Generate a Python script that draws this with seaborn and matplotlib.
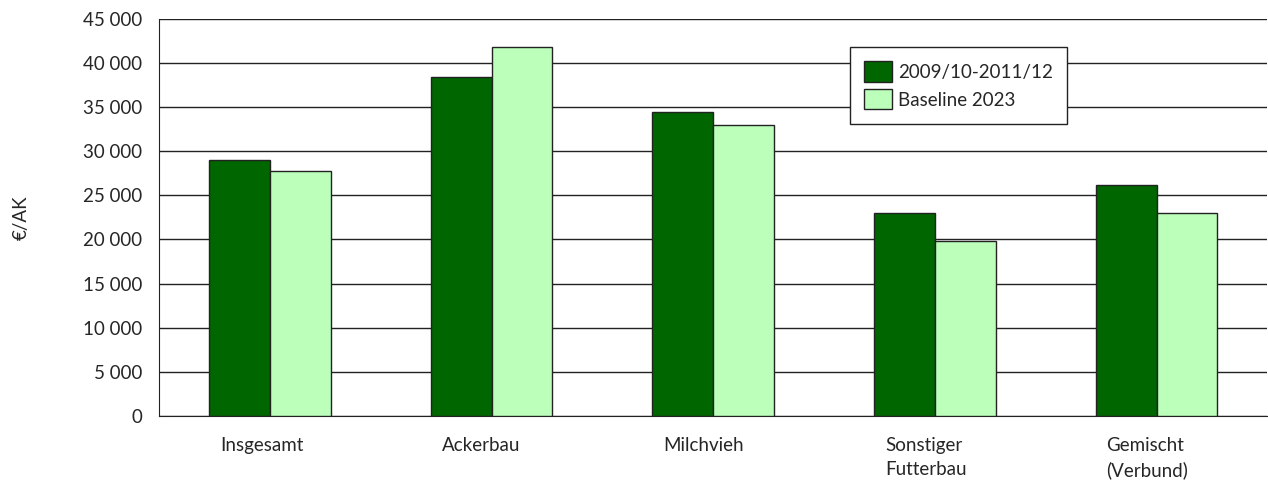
import matplotlib.pyplot as plt
import matplotlib.transforms as mtrans
import pandas as pd
import seaborn as sns
from matplotlib.ticker import FuncFormatter, MultipleLocator

# Daten
kategorien = ['Insgesamt', 'Ackerbau', 'Milchvieh', 'Sonstiger\nFutterbau', 'Gemischt\n(Verbund)']
serien = ['2009/10-2011/12', 'Baseline 2023']
werte_basis = [28950, 38400, 34400, 23000, 26150]
werte_2023 = [27800, 41800, 33000, 19850, 23000]
farben = ['#006600', '#BBFFBB']

df = pd.DataFrame({
    'kategorie': kategorien * 2,
    'serie': [serien[0]] * 5 + [serien[1]] * 5,
    'wert': werte_basis + werte_2023,
})

sns.set_style('white')
plt.rcParams['font.family'] = ['Lato', 'DejaVu Sans']

fig, ax = plt.subplots(figsize=(12.68, 4.83), dpi=100)
fig.subplots_adjust(left=0.1254, right=0.9995, top=0.961, bottom=0.139)

sns.barplot(data=df, x='kategorie', y='wert', hue='serie', palette=farben,
            saturation=1, width=0.55, edgecolor='#222222', linewidth=1,
            ax=ax, zorder=3)

ax.set_ylim(0, 45000)
ax.set_xlim(-0.5, 4.5)
ax.yaxis.set_major_locator(MultipleLocator(5000))
ax.yaxis.set_major_formatter(FuncFormatter(lambda v, p: f'{int(v):,}'.replace(',', ' ')))
ax.grid(axis='y', color='#222222', linewidth=1, zorder=0)
ax.set_axisbelow(True)

for s in ['top', 'right']:
    ax.spines[s].set_visible(False)
ax.spines['left'].set_color('#222222')
ax.spines['bottom'].set_color('#222222')

ax.tick_params(axis='both', length=0, labelsize=13.5)
ax.tick_params(axis='y', pad=12)
ax.tick_params(axis='x', pad=15)
offset = mtrans.ScaledTranslation(-50 / 100, 0, fig.dpi_scale_trans)
for lbl in ax.get_xticklabels():
    lbl.set_horizontalalignment('left')
    lbl.set_linespacing(1.5)
    lbl.set_transform(lbl.get_transform() + offset)

ax.set_xlabel('')
ax.set_ylabel('€/AK', fontsize=13.5, labelpad=38)

leg = ax.legend(loc='upper left', bbox_to_anchor=(0.623, 0.929), frameon=True,
                borderaxespad=0, fontsize=13.5, handlelength=1.5, handleheight=1.3,
                borderpad=0.75, labelspacing=0.4, handletextpad=0.35,
                fancybox=False)
leg.get_frame().set_edgecolor('#222222')
leg.get_frame().set_linewidth(1)
leg.get_frame().set_alpha(1)

fig.savefig('out.png', dpi=100)
